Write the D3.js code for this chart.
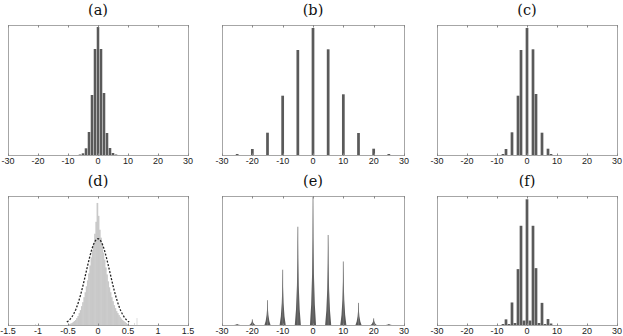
<!DOCTYPE html>
<html><head><meta charset="utf-8">
<script src="https://cdn.jsdelivr.net/npm/d3@7"></script>
<style>body{margin:0;background:#fff}svg{display:block}</style></head>
<body><svg id="c" width="623" height="336"></svg>
<script>
// ---- data ----
const intTicks = [-30, -20, -10, 0, 10, 20, 30];
const intTickLabels = ["-30", "-20", "-10", "0", "10", "20", "30"];
const dTicks = [-1.5, -1, -0.5, 0, 0.5, 1, 1.5];
const dTickLabels = ["-1.5", "-1", "-0.5", "0", "0.5", "1", "1.5"];
const titles = ["(a)", "(b)", "(c)", "(d)", "(e)", "(f)"];

const aX = [-6, -5, -4, -3, -2, -1, 0, 1, 2, 3, 4, 5, 6];
const aY = [0.5, 1.7, 6.7, 23, 60, 106, 128, 106, 62, 22, 7, 2, 0.5];

const bX = [-25, -20, -15, -10, -5, 0, 5, 10, 15, 20, 25];
const bY = [1, 6, 22.3, 59.3, 105, 127, 105.7, 60.7, 22, 6.3, 1];

const cX = [-8, -7, -5, -3, -2, 0, 2, 3, 5, 7, 8];
const cY = [1, 6, 22.7, 59.3, 105, 127, 105.7, 61, 22.3, 6.3, 1];

// (d) fine histogram, bin width 0.02, centres
const dBinX = [-0.49,-0.47,-0.45,-0.43,-0.41,-0.39,-0.37,-0.35,-0.33,-0.31,-0.29,-0.27,-0.25,-0.23,-0.21,-0.19,-0.17,-0.15,-0.13,-0.11,-0.09,-0.07,-0.05,-0.03,-0.01,
               0.01,0.03,0.05,0.07,0.09,0.11,0.13,0.15,0.17,0.19,0.21,0.23,0.25,0.27,0.29,0.31,0.33,0.35,0.37,0.39,0.41,0.43,0.45,0.47,0.49];
const dBinY = [0.5,1,1.5,2,3,4,5,7,9,12,15,19,23,28,33,39,45,52,60,68,75,82,92,104,123,
               110,96,88,81,73,66,58,51,44,38,33,28,24,20,17,14,12,10,8,6.5,5,4,3,2,1];
const dOutX = [-1.04, 0.61, 0.65];
const dOutY = [1, 2, 7];
const dFitMu = 0, dFitSigma = 0.2, dFitPeak = 87;

const eX = [-25, -20, -15, -10, -5, 0, 5, 10, 15, 20, 25];
const eY = [1, 5.7, 25, 55.7, 99, 129, 90.7, 64, 22.3, 6.7, 1];
const eProfX = [-1, -0.6, -0.3, -0.12, 0, 0.12, 0.3, 0.6, 1];
const eProfY = [0, 0.16, 0.4, 0.68, 1, 0.68, 0.4, 0.16, 0];

const fX = [-8, -7, -6, -5, -4, -3, -2, -1, 0, 1, 2, 3, 4, 5, 6, 7, 8];
const fY = [1, 5.7, 1, 22.7, 2, 56.3, 100, 4.5, 126.7, 4.5, 100, 57.3, 2, 22.3, 1, 6, 1.5];

// ---- layout ----
const svg = d3.select("#c");
const cols = [[8, 188], [222, 404], [437, 617]];
const rows = [[25, 155], [196, 325]];
const barColor = "#5a5a5a";
const frameColor = "#a6a6a6";

function panel(col, row, domain, ticks, labels, title) {
  const [x0, x1] = cols[col], [y0, y1] = rows[row];
  const x = d3.scaleLinear().domain(domain).range([x0, x1]);
  const y = d3.scaleLinear().domain([0, 130]).range([y1, y0]);
  const g = svg.append("g");
  return {x, y, g, finish() {
    const f = svg.append("g");
    f.append("rect").attr("x", x0 + 0.5).attr("y", y0 + 0.5)
      .attr("width", x1 - x0).attr("height", y1 - y0)
      .attr("fill", "none").attr("stroke", frameColor).attr("stroke-width", 1);
    ticks.forEach((t, i) => {
      const px = Math.round(x(t)) + 0.5;
      f.append("line").attr("x1", px).attr("x2", px).attr("y1", y0).attr("y2", y0 + 2.5)
        .attr("stroke", "#888");
      f.append("line").attr("x1", px).attr("x2", px).attr("y1", y1 + 1).attr("y2", y1 - 1.5)
        .attr("stroke", "#888");
      f.append("text").attr("x", x(t)).attr("y", y1 + 8.5)
        .attr("text-anchor", "middle").attr("font-family", "'Liberation Sans', Arial, sans-serif")
        .attr("font-size", 9).attr("fill", "#222").text(labels[i]);
    });
    f.append("text").attr("x", (x0 + x1) / 2).attr("y", y0 - 10)
      .attr("text-anchor", "middle").attr("font-family", "'DejaVu Serif', 'Liberation Serif', serif")
      .attr("font-size", 14.5).attr("fill", "#111").text(title);
  }};
}

function bars(p, xs, ys, w, color, pad) {
  pad = pad || 0;
  p.g.selectAll(null).data(xs).enter().append("rect")
    .attr("x", (d) => p.x(d - w / 2) - pad)
    .attr("width", (d) => p.x(d + w / 2) - p.x(d - w / 2) + 2 * pad)
    .attr("y", (d, i) => p.y(ys[i]))
    .attr("height", (d, i) => p.y(0) - p.y(ys[i]))
    .attr("fill", color);
}

// (a)
let p = panel(0, 0, [-30, 30], intTicks, intTickLabels, titles[0]);
bars(p, aX, aY, 0.85, barColor); p.finish();
// (b)
p = panel(1, 0, [-30, 30], intTicks, intTickLabels, titles[1]);
bars(p, bX, bY, 0.9, barColor); p.finish();
// (c)
p = panel(2, 0, [-30, 30], intTicks, intTickLabels, titles[2]);
bars(p, cX, cY, 0.9, barColor); p.finish();
// (d)
p = panel(0, 1, [-1.5, 1.5], dTicks, dTickLabels, titles[3]);
bars(p, dBinX, dBinY, 0.02, "#c9c9c9", 0.25);
bars(p, dOutX, dOutY, 0.012, "#cfcfcf");
{
  const pts = d3.range(-0.52, 0.5201, 0.01).map(v => [v, dFitPeak * Math.exp(-((v - dFitMu) ** 2) / (2 * dFitSigma ** 2))]);
  p.g.append("path").attr("d", d3.line().x(d => p.x(d[0])).y(d => p.y(d[1]))(pts))
    .attr("fill", "none").attr("stroke", "#222").attr("stroke-width", 1.3)
    .attr("stroke-dasharray", "2,1.6");
}
p.finish();
// (e)
p = panel(1, 1, [-30, 30], intTicks, intTickLabels, titles[4]);
{
  const area = d3.area().x(d => p.x(d[0])).y0(p.y(0)).y1(d => p.y(d[1]));
  eX.forEach((c, i) => {
    const pts = eProfX.map((o, k) => [c + o, eY[i] * eProfY[k]]);
    p.g.append("path").attr("d", area(pts)).attr("fill", barColor);
    p.g.append("line").attr("x1", p.x(c)).attr("x2", p.x(c)).attr("y1", p.y(0)).attr("y2", p.y(eY[i]))
      .attr("stroke", "#777").attr("stroke-width", 0.8);
  });
}
p.finish();
// (f)
p = panel(2, 1, [-30, 30], intTicks, intTickLabels, titles[5]);
bars(p, fX, fY, 0.9, barColor); p.finish();
</script></body></html>
